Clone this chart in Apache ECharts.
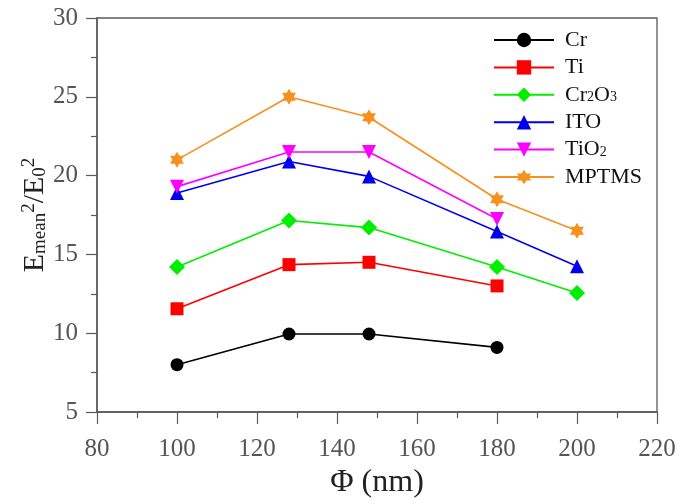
<!DOCTYPE html>
<html><head><meta charset="utf-8">
<script src="https://cdn.jsdelivr.net/npm/echarts@6/dist/echarts.min.js"></script>
<style>html,body{margin:0;padding:0;background:#fff}#c{width:693px;height:504px}</style>
</head><body><div id="c"></div>
<script>
const diameters = [100, 128, 148, 180, 200];
const seriesNames = ['Cr', 'Ti', 'Cr2O3', 'ITO', 'TiO2', 'MPTMS'];
const crValues = [8.0, 9.95, 9.95, 9.1];
const tiValues = [11.55, 14.35, 14.5, 13.0];
const cr2o3Values = [14.2, 17.15, 16.7, 14.2, 12.55];
const itoValues = [18.9, 20.9, 19.95, 16.45, 14.25];
const tio2Values = [19.3, 21.5, 21.5, 17.25];
const mptmsValues = [21.0, 25.0, 23.7, 18.5, 16.5];
const xTicks = [80, 100, 120, 140, 160, 180, 200, 220];
const yTicks = [5, 10, 15, 20, 25, 30];

const star6 = 'path://M50 0 L64.5 24.9 L93.3 25 L79 50 L93.3 75 L64.5 75.1 L50 100 L35.5 75.1 L6.7 75 L21 50 L6.7 25 L35.5 24.9 Z';
const styles = [
  {color:'#000000', symbol:'circle', size:13, rot:0},
  {color:'#ff0000', symbol:'rect', size:13, rot:0},
  {color:'#00ee00', symbol:'diamond', size:16, rot:0},
  {color:'#0000ee', symbol:'triangle', size:14, rot:0},
  {color:'#ff00ff', symbol:'triangle', size:14, rot:180},
  {color:'#f7901e', symbol:star6, size:16, rot:0}
];
const allValues = [crValues, tiValues, cr2o3Values, itoValues, tio2Values, mptmsValues];
const labelMap = {
  'Cr':'Cr', 'Ti':'Ti', 'Cr2O3':'Cr{sub|2}O{sub|3}', 'ITO':'ITO', 'TiO2':'TiO{sub|2}', 'MPTMS':'MPTMS'
};
const font = 'Liberation Serif';
const axisGray = '#5a5a5a';
const chart = echarts.init(document.getElementById('c'));
chart.setOption({
  animation:false,
  backgroundColor:'#fff',
  grid:{left:97, right:36, top:18, bottom:92, show:true, borderColor:axisGray, borderWidth:1.3,
        containLabel:false, outerBoundsMode:'none'},
  legend:{
    orient:'vertical', left:488, top:24, itemWidth:60, itemHeight:18, itemGap:5.4,
    data:seriesNames,
    formatter:n => labelMap[n],
    textStyle:{fontFamily:font, fontSize:22, lineHeight:20, color:'#111', padding:[0,0,0,6],
      rich:{sub:{fontFamily:font, fontSize:14, lineHeight:10, color:'#111', verticalAlign:'bottom'}}}
  },
  xAxis:{
    type:'value', min:80, max:220, interval:20,
    name:'Φ (nm)', nameLocation:'middle', nameGap:55, nameMoveOverlap:false,
    nameTextStyle:{fontFamily:font, fontSize:32, color:'#222'},
    axisLine:{lineStyle:{color:axisGray, width:1.5}},
    axisTick:{show:true, inside:false, length:12, lineStyle:{color:axisGray, width:1.2}},
    minorTick:{show:true, splitNumber:2, length:6, lineStyle:{color:axisGray, width:1.2}},
    axisLabel:{fontFamily:font, fontSize:25, color:'#555', margin:25},
    splitLine:{show:false}
  },
  yAxis:{
    type:'value', min:5, max:30, interval:5,
    name:'E{sub|mean}{sup|2}/E{sub|0}{sup|2}', nameLocation:'middle', nameGap:47, nameRotate:90,
    nameMoveOverlap:false,
    nameTextStyle:{fontFamily:font, fontSize:30, color:'#222', lineHeight:30,
      rich:{sub:{fontFamily:font, fontSize:19, color:'#222', verticalAlign:'bottom', lineHeight:14, padding:[22,0,0,0]},
            sup:{fontFamily:font, fontSize:19, color:'#222', verticalAlign:'top', lineHeight:17}}},
    axisLine:{show:true, lineStyle:{color:axisGray, width:1.5}},
    axisTick:{show:true, inside:false, length:11, lineStyle:{color:axisGray, width:1.2}},
    minorTick:{show:true, splitNumber:2, length:6, lineStyle:{color:axisGray, width:1.2}},
    axisLabel:{fontFamily:font, fontSize:25, color:'#555', margin:19},
    splitLine:{show:false}
  },
  series: seriesNames.map((name, i) => ({
    name, type:'line',
    data: allValues[i].map((v, j) => [diameters[j], v]),
    symbol: styles[i].symbol, symbolSize: styles[i].size, symbolRotate: styles[i].rot,
    symbolKeepAspect:true,
    itemStyle:{color: styles[i].color},
    lineStyle:{color: styles[i].color, width:1.6}
  }))
});
</script></body></html>
